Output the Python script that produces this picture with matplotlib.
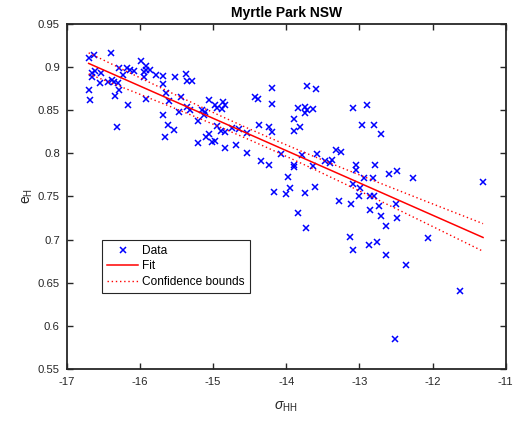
import numpy as np
import matplotlib
matplotlib.use("Agg")
import matplotlib.pyplot as plt
from matplotlib.ticker import FuncFormatter

# Backscatter (sigma_HH, dB) vs emissivity e_H at Myrtle Park NSW
sigma_hh = [
    -16.69, -16.63, -16.40, -16.70, -16.68, -16.65, -16.62, -16.66, -16.53, -16.54,
    -16.43, -16.38, -16.35, -16.30, -16.29, -16.23, -16.28, -16.34, -16.16, -16.31,
    -16.18, -16.14, -16.08,
    -15.99, -15.91, -15.92, -15.86, -15.95, -15.94, -15.78, -15.68, -15.68, -15.64,
    -15.60, -15.52, -15.37, -15.35, -15.29, -15.92, -15.68, -15.61, -15.53, -15.66,
    -15.44, -15.46, -15.36, -15.32, -15.21, -15.20,
    -15.15, -15.13, -15.11, -15.05, -14.97, -14.95, -14.86, -14.84, -14.88, -15.06,
    -15.10, -15.02, -14.97,
    -14.94, -14.89, -14.84, -14.74, -14.64, -14.53, -14.83, -14.68, -14.53,
    -14.43, -14.38, -14.20, -14.20, -14.37, -14.23, -14.20, -14.35, -14.24, -14.07,
    -14.17, -14.00, -13.95,
    -13.72, -13.59, -13.84, -13.74, -13.72, -13.63, -13.75, -13.90, -13.89, -13.81,
    -13.90, -13.89, -13.79, -13.58, -13.63, -13.97, -13.75, -13.60, -13.84, -13.73,
    -13.47, -13.38, -13.40, -13.32, -13.25, -13.09, -13.04, -13.04, -12.96, -13.28,
    -13.12, -13.09, -12.99, -13.00, -13.13, -13.09,
    -12.89, -12.80, -12.71, -12.78, -12.60, -12.49, -12.94, -12.82, -12.86, -12.80,
    -12.73, -12.50, -12.86, -12.71, -12.48, -12.64, -12.87, -12.76, -12.63, -12.52,
    -12.27, -12.36, -12.06, -11.63, -11.31,
]
e_h = [
    0.910, 0.914, 0.916, 0.873, 0.862, 0.893, 0.895, 0.889, 0.893, 0.882,
    0.883, 0.885, 0.883, 0.882, 0.899, 0.891, 0.873, 0.866, 0.856, 0.831,
    0.899, 0.897, 0.895,
    0.907, 0.901, 0.897, 0.897, 0.894, 0.888, 0.891, 0.890, 0.880, 0.870,
    0.861, 0.889, 0.892, 0.884, 0.884, 0.863, 0.845, 0.833, 0.827, 0.819,
    0.865, 0.848, 0.854, 0.850, 0.838, 0.812,
    0.850, 0.844, 0.848, 0.862, 0.856, 0.853, 0.859, 0.856, 0.851, 0.822,
    0.819, 0.813, 0.814,
    0.832, 0.826, 0.825, 0.829, 0.828, 0.824, 0.806, 0.810, 0.800,
    0.865, 0.863, 0.876, 0.857, 0.833, 0.830, 0.825, 0.791, 0.787, 0.799,
    0.755, 0.753, 0.760,
    0.878, 0.875, 0.853, 0.854, 0.850, 0.851, 0.847, 0.840, 0.826, 0.831,
    0.787, 0.784, 0.798, 0.799, 0.785, 0.773, 0.754, 0.761, 0.731, 0.713,
    0.791, 0.792, 0.789, 0.804, 0.802, 0.853, 0.787, 0.781, 0.833, 0.745,
    0.741, 0.764, 0.760, 0.751, 0.703, 0.688,
    0.856, 0.833, 0.822, 0.787, 0.776, 0.779, 0.772, 0.772, 0.751, 0.751,
    0.739, 0.741, 0.734, 0.727, 0.725, 0.716, 0.694, 0.697, 0.682, 0.585,
    0.771, 0.671, 0.702, 0.640, 0.767,
]

x_ticks = [-17, -16, -15, -14, -13, -12, -11]
y_ticks = [0.55, 0.6, 0.65, 0.7, 0.75, 0.8, 0.85, 0.9, 0.95]

x = np.asarray(sigma_hh)
y = np.asarray(e_h)

# Least-squares line with 95% confidence bounds on the fitted mean
n = x.size
slope, intercept = np.polyfit(x, y, 1)
resid = y - (slope * x + intercept)
s = np.sqrt(np.sum(resid ** 2) / (n - 2))
sxx = np.sum((x - x.mean()) ** 2)
t_crit = 1.976
xf = np.linspace(x.min(), x.max(), 200)
yf = slope * xf + intercept
half = t_crit * s * np.sqrt(1.0 / n + (xf - x.mean()) ** 2 / sxx)

plt.rcParams["font.family"] = ["Liberation Sans", "DejaVu Sans"]
plt.rcParams["mathtext.fontset"] = "custom"
plt.rcParams["mathtext.rm"] = "Liberation Sans"
plt.rcParams["mathtext.it"] = "Liberation Sans:italic"
plt.rcParams["axes.unicode_minus"] = False

axis_col = (0.15, 0.15, 0.15)
fs = 8.1

fig = plt.figure(figsize=(5.18, 4.23), dpi=100)
ax = fig.add_axes([0.1288, 0.1277, 0.8475, 0.8156])

ax.plot(x, y, linestyle="none", marker="x", color=(0, 0, 1),
        markersize=4.6, markeredgewidth=1.1, label="Data")
ax.plot(xf, yf, color=(1, 0, 0), linewidth=1.1, label="Fit")
ax.plot(xf, yf + half, color=(1, 0, 0), linewidth=1.0,
        linestyle=(0, (1, 2)), label="Confidence bounds")
ax.plot(xf, yf - half, color=(1, 0, 0), linewidth=1.0,
        linestyle=(0, (1, 2)))

ax.set_xlim(-17, -11)
ax.set_ylim(0.55, 0.95)
ax.set_xticks(x_ticks)
ax.set_yticks(y_ticks)
ax.yaxis.set_major_formatter(FuncFormatter(lambda v, p: f"{v:g}"))
ax.xaxis.set_major_formatter(FuncFormatter(lambda v, p: f"{v:g}"))

ax.tick_params(direction="in", length=4, width=1.0, colors=axis_col,
               labelsize=fs, top=True, right=True)
ax.tick_params(axis="x", pad=6)
ax.tick_params(axis="y", pad=5)
for sp in ax.spines.values():
    sp.set_linewidth(1.3)
    sp.set_color(axis_col)

ax.set_title("Myrtle Park NSW", fontsize=10, fontweight="bold", pad=5)
ax.set_xlabel(r"$\sigma_{\mathrm{HH}}$", fontsize=10, color=axis_col, labelpad=9)
ax.set_ylabel(r"$\mathrm{e}_{\mathrm{H}}$", fontsize=10, color=axis_col, labelpad=2)

leg = ax.legend(loc="lower left", bbox_to_anchor=(0.081, 0.221),
                borderaxespad=0, fancybox=False, fontsize=8.6,
                handlelength=2.6, handletextpad=0.35, labelspacing=0.3,
                borderpad=0.4, framealpha=1)
leg.get_frame().set_edgecolor(axis_col)
leg.get_frame().set_linewidth(0.8)

fig.savefig("out.png", dpi=100)
